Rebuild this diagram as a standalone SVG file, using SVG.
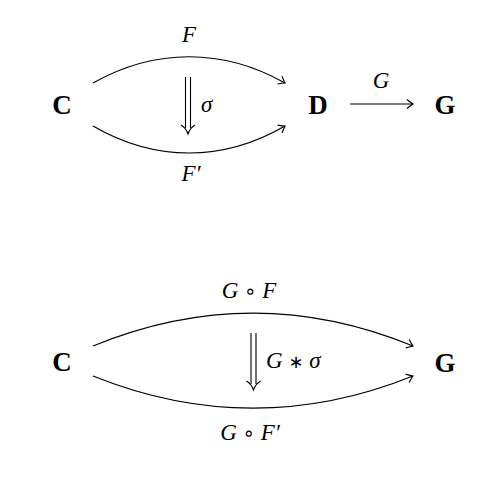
<svg xmlns="http://www.w3.org/2000/svg" width="500" height="486" viewBox="0 0 500 486">
<defs>
<style>
.obj{font-family:"Liberation Serif","DejaVu Serif",serif;font-weight:bold;font-size:27px;fill:#000}
.lbl{font-family:"Liberation Serif","DejaVu Serif",serif;font-style:italic;font-size:23px;fill:#000}
.up{font-family:"DejaVu Sans",sans-serif;font-style:normal;font-size:20px;fill:#000}
.ast{font-family:"DejaVu Sans",sans-serif;font-style:normal;font-size:18px;fill:#000}
.edge{fill:none;stroke:#000;stroke-width:1.2}
.dbl{fill:none;stroke:#000;stroke-width:1.1}
</style>
<marker id="to" viewBox="-9 -6 11 12" markerWidth="11" markerHeight="12" refX="0" refY="0" orient="auto" markerUnits="userSpaceOnUse">
<path d="M -6 -4.5 Q -2 -1.2 0 0 Q -2 1.2 -6 4.5" fill="none" stroke="#000" stroke-width="1.2"/>
</marker>
</defs>
<rect width="500" height="486" fill="#fff"/>
<g id="connectors">
<path class="edge" d="M 93 83 C 155 48, 223 48, 285 83" marker-end="url(#to)"/>
<path class="edge" d="M 93 126 C 155 162, 223 162, 285 126" marker-end="url(#to)"/>
<path class="edge" d="M 350 104 L 413 104" marker-end="url(#to)"/>
<path class="edge" d="M 93 346 C 200 302, 306 302, 413 346" marker-end="url(#to)"/>
<path class="edge" d="M 93 376 C 200 419, 306 419, 413 376" marker-end="url(#to)"/>
<g id="sigma">
<path class="dbl" d="M 185.5 77 L 185.5 128 M 190.5 77 L 190.5 128"/>
<path class="dbl" d="M 181 125 Q 186 128 188 134 Q 190 128 195 125"/>
</g>
<g id="Gsigma">
<path class="dbl" d="M 251 333 L 251 384 M 256 333 L 256 384"/>
<path class="dbl" d="M 246.5 381 Q 251.5 384 253.5 390 Q 255.5 384 260.5 381"/>
</g>
</g>
<g id="labels">
<text class="lbl" x="189" y="42" text-anchor="middle">F</text>
<text class="lbl" x="191" y="181" text-anchor="middle">F′</text>
<text class="lbl" x="201" y="112">σ</text>
<text class="lbl" x="381" y="88" text-anchor="middle">G</text>
<text class="lbl" x="249" y="298" text-anchor="middle">G <tspan class="up">∘</tspan> F</text>
<text class="lbl" x="250" y="440" text-anchor="middle">G <tspan class="up">∘</tspan> F′</text>
<text class="lbl" x="266" y="368">G <tspan class="ast">∗</tspan> σ</text>
</g>
<g id="C1"><text class="obj" x="62" y="114" text-anchor="middle">C</text></g>
<g id="D"><text class="obj" x="318" y="114" text-anchor="middle">D</text></g>
<g id="G1"><text class="obj" x="445" y="114" text-anchor="middle">G</text></g>
<g id="C2"><text class="obj" x="62" y="371" text-anchor="middle">C</text></g>
<g id="G2"><text class="obj" x="445" y="372" text-anchor="middle">G</text></g>
</svg>
